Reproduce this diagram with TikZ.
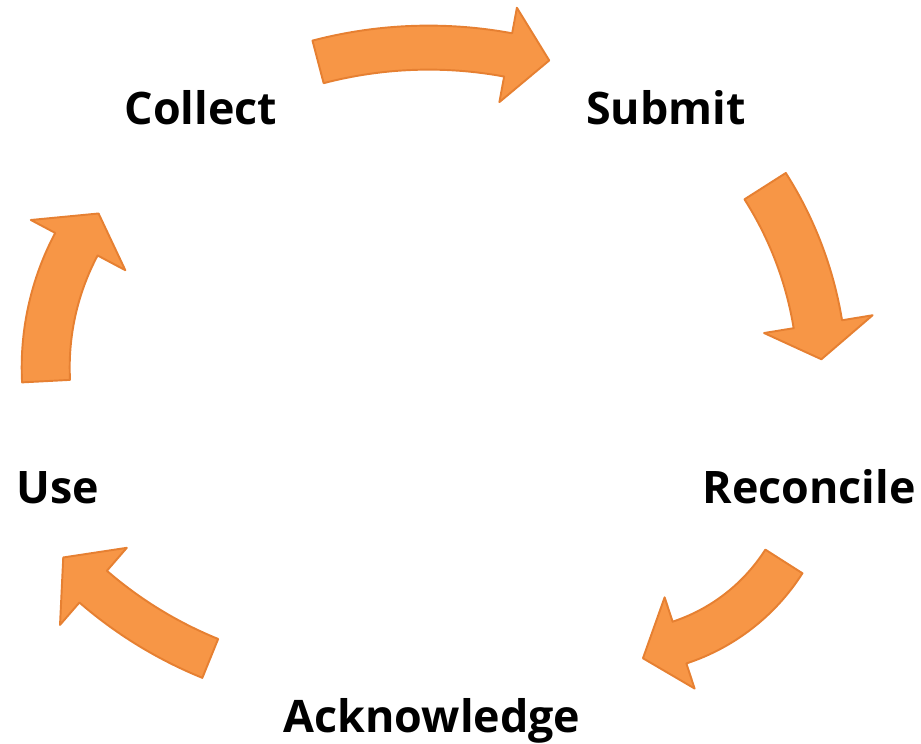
\documentclass[tikz,border=0pt]{standalone}
\usepackage{fontspec}
\setmainfont{Open Sans}
\begin{document}
\begin{tikzpicture}[x=0.02cm,y=-0.02cm,
  cyclearrow/.style={fill={rgb,255:red,247;green,150;blue,70},
    draw={rgb,255:red,230;green,128;blue,50}, line width=1.1pt, line join=round},
  stage/.style={anchor=base, inner sep=0pt, font=\fontsize{25.5}{30}\selectfont\bfseries}]
\useasboundingbox (0,0) rectangle (921,744);

% stage labels
\node[stage] (collect) at (201,124) {Collect};
\node[stage] (submit) at (666,124) {Submit};
\node[stage] (reconcile) at (809,503) {Reconcile};
\node[stage] (use) at (58,503) {Use};
\node[stage] (ack) at (432,732) {Acknowledge};

% each arrow: an annular sector around its own centre, then the head
% Collect -> Submit
\draw[cyclearrow, shift={(428.7,483.6)}]
  (-104.7:458) arc[start angle=-104.7, end angle=-79.5, radius=458]
  -- (-79.5:484) -- (-74.1:440) -- (-79.5:388) -- (-79.5:414)
  arc[start angle=-79.5, end angle=-104.7, radius=414] -- cycle;

% Submit -> Reconcile
\draw[cyclearrow, shift={(455.2,383.6)}]
  (-32.5:392) arc[start angle=-32.5, end angle=-9.3, radius=392]
  -- (-9.3:423) -- (-3.8:367) -- (-9.3:313) -- (-9.3:343)
  arc[start angle=-9.3, end angle=-32.5, radius=343] -- cycle;

% Reconcile -> Acknowledge
\draw[cyclearrow, shift={(618.1,455.8)}]
  (32.5:218.6) arc[start angle=32.5, end angle=71.8, radius=218.6]
  -- (71.8:245) -- (83:204) -- (71.8:149) -- (71.8:174.6)
  arc[start angle=71.8, end angle=32.5, radius=174.6] -- cycle;

% Acknowledge -> Use
\draw[cyclearrow, shift={(368.4,268.9)}]
  (112.1:441.4) arc[start angle=112.1, end angle=130.9, radius=441.4]
  -- (130.9:471) -- (136.6:420) -- (130.9:369) -- (130.9:399.4)
  arc[start angle=130.9, end angle=112.1, radius=399.4] -- cycle;

% Use -> Collect
\draw[cyclearrow, shift={(308.1,367.4)}]
  (177:286.4) arc[start angle=177, end angle=208, radius=286.4]
  -- (208:314) -- (216.3:260) -- (208:207) -- (208:238.4)
  arc[start angle=208, end angle=177, radius=238.4] -- cycle;
\end{tikzpicture}
\end{document}
